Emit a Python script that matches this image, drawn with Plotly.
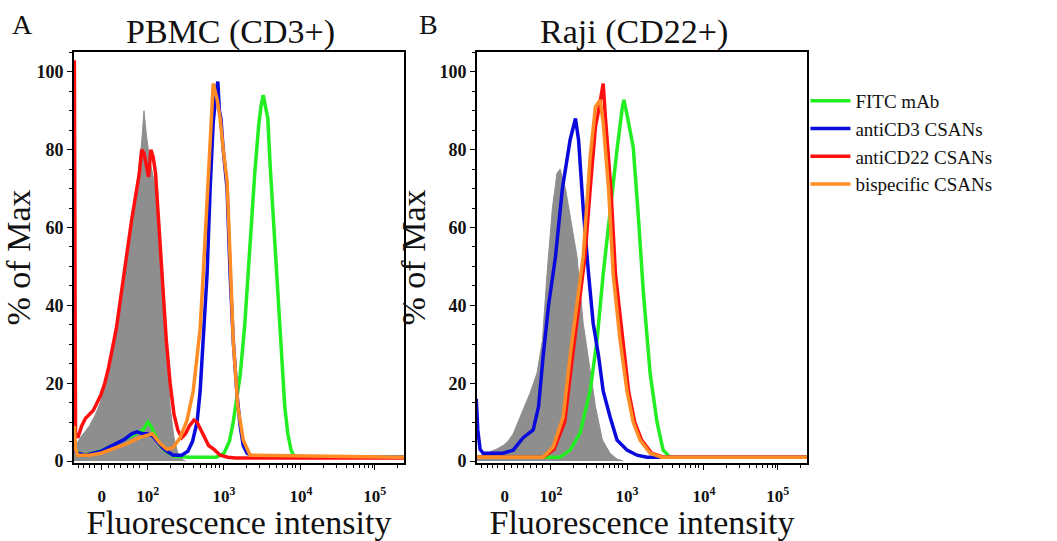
import plotly.graph_objects as go
import numpy as np

# x values are in display (biexponential) units: decade k ~ position k
# ---------- Panel A: PBMC (CD3+) ----------
a_gray_x = [1.10,1.15,1.22,1.30,1.38,1.44,1.50,1.55,1.60,1.66,1.70,1.75,1.80,1.85,1.90,1.95,1.98,2.01,2.04,2.08,2.12,2.16,2.20,2.25,2.30,2.35,2.40,2.45,2.50,2.55]
a_gray_y = [3,5,7,9,12,15,19,23,28,35,40,47,55,62,68,76,82,90,84,78,74,70,62,45,28,14,6,2,0.5,0]

a_green_x = [1.10,1.20,1.35,1.50,1.65,1.80,1.92,2.00,2.06,2.10,2.16,2.22,2.30,2.40,2.60,2.80,2.95,3.05,3.12,3.17,3.22,3.26,3.32,3.39,3.45,3.50,3.53,3.56,3.59,3.62,3.65,3.70,3.75,3.80,3.84,3.88,3.92,3.96,4.10,5.39]
a_green_y = [3,1.5,2,3,4.5,6,7,8,10,9,6.5,4,2.5,1.2,1,1,1,2,5,10,16,22,35,57,74,86,91,94,91,88,76,60,42,26,14,7,3,1.2,1,1]

a_blue_x = [1.10,1.15,1.25,1.35,1.45,1.55,1.65,1.75,1.85,1.92,2.00,2.05,2.12,2.18,2.25,2.31,2.39,2.50,2.58,2.64,2.70,2.74,2.78,2.83,2.87,2.91,2.95,2.97,2.99,3.01,3.04,3.09,3.13,3.17,3.22,3.26,3.30,3.35,3.45,5.39]
a_blue_y = [3,2,1.5,2,2.5,3.5,4.5,5.5,7,7.5,7,7,6.5,5,3.5,2.5,1.5,1.5,2.5,5,10,18,31,48,70,87,95,97.5,90,88,80,70,48,31,17,9,4,2,1,1]

a_red_x = [1.105,1.12,1.15,1.20,1.25,1.30,1.35,1.40,1.45,1.50,1.55,1.60,1.65,1.70,1.75,1.80,1.85,1.90,1.95,1.98,2.01,2.04,2.07,2.10,2.13,2.16,2.20,2.25,2.30,2.35,2.40,2.45,2.50,2.55,2.60,2.66,2.70,2.75,2.80,2.85,2.92,3.00,3.10,3.20,5.39]
a_red_y = [103,7,6,9,11,12,13,15,17,20,24,29,34,41,48,56,62,68,74,80,79,76,73,80,78,74,62,45,31,20,12,8,6,7,9,10.5,10,8,6,4,3,1.5,1,0.8,0.8]

a_orange_x = [1.105,1.12,1.15,1.30,1.45,1.60,1.79,1.95,2.05,2.12,2.18,2.22,2.31,2.39,2.48,2.57,2.65,2.74,2.78,2.83,2.87,2.91,2.96,3.00,3.04,3.09,3.13,3.17,3.23,3.30,3.39,5.39]
a_orange_y = [9,3,1.5,1.5,2,3,4.5,6,6.5,7,5.5,4.5,3,3.5,6,10.5,18,34,48,67,82.5,97,93,88,80,72,52,31,14,5.4,1.5,1]

# ---------- Panel B: Raji (CD22+) ----------
b_gray_x = [1.09,1.23,1.35,1.44,1.50,1.57,1.63,1.70,1.79,1.88,1.95,2.01,2.08,2.14,2.18,2.25,2.31,2.40,2.48,2.57,2.64,2.73,2.83,2.92,3.00]
b_gray_y = [1,2,3,4,5,7,10,13,17.5,22.6,31,48,65,74,75,70,63,52.5,35.4,22.6,14,5.4,2,0.5,0]

b_green_x = [1.09,2.18,2.31,2.44,2.57,2.66,2.74,2.83,2.92,2.99,3.01,3.06,3.13,3.19,3.26,3.35,3.44,3.52,3.61,5.39]
b_green_y = [1,1,2.8,7.2,18,31,48,65,80,91,92.8,88,80.7,65,44,22.6,10,2.8,1,1]

b_blue_x = [1.09,1.11,1.14,1.18,1.30,1.44,1.57,1.70,1.83,1.90,1.96,2.03,2.12,2.21,2.31,2.38,2.42,2.48,2.55,2.61,2.68,2.74,2.83,2.92,3.05,3.18,3.31,5.39]
b_blue_y = [16,8,3,2,2,2,2.8,6,8,14,27,40,52.5,70,82.5,88,82.5,65,48,35.4,27,18,11.3,5.4,2.8,1.5,1,1]

b_red_x = [1.09,1.96,2.10,2.24,2.33,2.42,2.50,2.58,2.64,2.68,2.74,2.77,2.84,2.90,2.99,3.07,3.15,3.24,3.37,3.52,5.39]
b_red_y = [1,1,3,10,25,40,52,72,86,90,97,88,70,48,31,18,10,5.4,2,1,1]

b_orange_x = [1.09,1.50,1.96,2.09,2.22,2.31,2.40,2.48,2.57,2.64,2.70,2.74,2.81,2.87,2.96,3.05,3.13,3.22,3.35,3.50,5.39]
b_orange_y = [1,1,1,3.6,11.3,27,40,52.5,78,91,92.8,87,70,48,31,18,10,5.4,2,1,1]

series_names = ["FITC mAb", "antiCD3 CSANs", "antiCD22 CSANs", "bispecific CSANs"]
series_colors = ["#22EE22", "#0A0ADC", "#FF1010", "#FF8C24"]

x_tickvals = [1.46, 2.06, 3.05, 4.05, 5.01]
x_ticktext = ["0", "10<sup>2</sup>", "10<sup>3</sup>", "10<sup>4</sup>", "10<sup>5</sup>"]
y_tickvals = [0, 20, 40, 60, 80, 100]

panel_titles = ["PBMC (CD3+)", "Raji (CD22+)"]
panel_letters = ["A", "B"]

FONT = "Liberation Serif, Times New Roman, serif"

fig = go.Figure()

panels = [
    ("x", "y", a_gray_x, a_gray_y,
     [(a_green_x, a_green_y), (a_blue_x, a_blue_y), (a_red_x, a_red_y), (a_orange_x, a_orange_y)], False),
    ("x2", "y2", b_gray_x, b_gray_y,
     [(b_green_x, b_green_y), (b_blue_x, b_blue_y), (b_red_x, b_red_y), (b_orange_x, b_orange_y)], True),
]

for xa, ya, gx, gy, curves, show in panels:
    fig.add_trace(go.Scatter(x=gx, y=gy, xaxis=xa, yaxis=ya, mode="lines",
                             fill="tozeroy", fillcolor="#8E8E8E",
                             line=dict(color="#8E8E8E", width=1),
                             showlegend=False, hoverinfo="skip"))
    for (cx, cy), name, col in zip(curves, series_names, series_colors):
        fig.add_trace(go.Scatter(x=cx, y=cy, xaxis=xa, yaxis=ya, mode="lines",
                                 name=name, line=dict(color=col, width=3.5),
                                 showlegend=show))

# minor tick positions (display units)
minor_x = []
for d in [2.06, 3.05, 4.05]:
    for k in range(2, 10):
        minor_x.append(d + np.log10(k) * 0.98)
minor_x += [5.01 + np.log10(2), 1.16, 1.23, 1.30, 1.37, 1.55, 1.63, 1.71, 1.79, 1.87, 1.95]

xr = [1.10, 5.39]
yr = [-0.5, 105.1]

ax_common = dict(showline=True, linecolor="black", linewidth=2, mirror=True,
                 showgrid=False, zeroline=False, automargin=False)

for i, (xk, yk, dom) in enumerate([("xaxis", "yaxis", [0.0700, 0.3822]),
                                    ("xaxis2", "yaxis2", [0.4513, 0.7635])]):
    fig.layout[xk] = dict(ax_common, domain=dom, range=xr,
                          anchor="y" if i == 0 else "y2",
                          tickmode="array", tickvals=x_tickvals, ticktext=x_ticktext,
                          ticks="outside", ticklen=5, tickwidth=1, tickcolor="black",
                          ticklabelstandoff=12,
                          tickfont=dict(family=FONT, size=17, color="#111", weight="bold"),
                          minor=dict(tickmode="array", tickvals=minor_x, ticks="outside",
                                     ticklen=3, tickwidth=1, tickcolor="black"),
                          title=dict(text="Fluorescence intensity", standoff=0,
                                     font=dict(family=FONT, size=34, color="#111")))
    fig.layout[yk] = dict(ax_common, domain=[0.1442, 0.9039], range=yr,
                          anchor="x" if i == 0 else "x2",
                          tickmode="array", tickvals=y_tickvals,
                          ticks="outside", ticklen=5, tickwidth=1, tickcolor="black",
                          tickfont=dict(family=FONT, size=18, color="#111", weight="bold"),
                          minor=dict(dtick=5, ticks="outside", ticklen=3, tickwidth=1,
                                     tickcolor="black"),
                          title=dict(text="% of Max", standoff=4,
                                     font=dict(family=FONT, size=34, color="#111")))

annotations = [
    dict(text=panel_letters[0], x=22, y=24, font=dict(family=FONT, size=28, color="#111")),
    dict(text=panel_titles[0], x=230, y=32, font=dict(family=FONT, size=34, color="#111")),
    dict(text=panel_letters[1], x=428, y=24, font=dict(family=FONT, size=28, color="#111")),
    dict(text=panel_titles[1], x=634, y=32, font=dict(family=FONT, size=34, color="#111")),
]
for a in annotations:
    fig.add_annotation(text=a["text"], x=a["x"] / 1057, y=1 - a["y"] / 541,
                       xref="paper", yref="paper", showarrow=False,
                       xanchor="center", yanchor="middle", font=a["font"])

fig.update_layout(
    width=1057, height=541,
    margin=dict(l=0, r=0, t=0, b=0, autoexpand=False),
    paper_bgcolor="white", plot_bgcolor="white",
    font=dict(family=FONT, color="#111"),
    legend=dict(x=0.762, y=1 - 82 / 541, xanchor="left", yanchor="top",
                font=dict(family=FONT, size=19, color="#111"),
                bgcolor="rgba(0,0,0,0)", borderwidth=0, tracegroupgap=0,
                itemwidth=40),
    showlegend=True,
)

fig.write_html("out.html", config={"displayModeBar": False},
               post_script="document.body.style.margin='0';document.body.style.overflow='hidden';")
